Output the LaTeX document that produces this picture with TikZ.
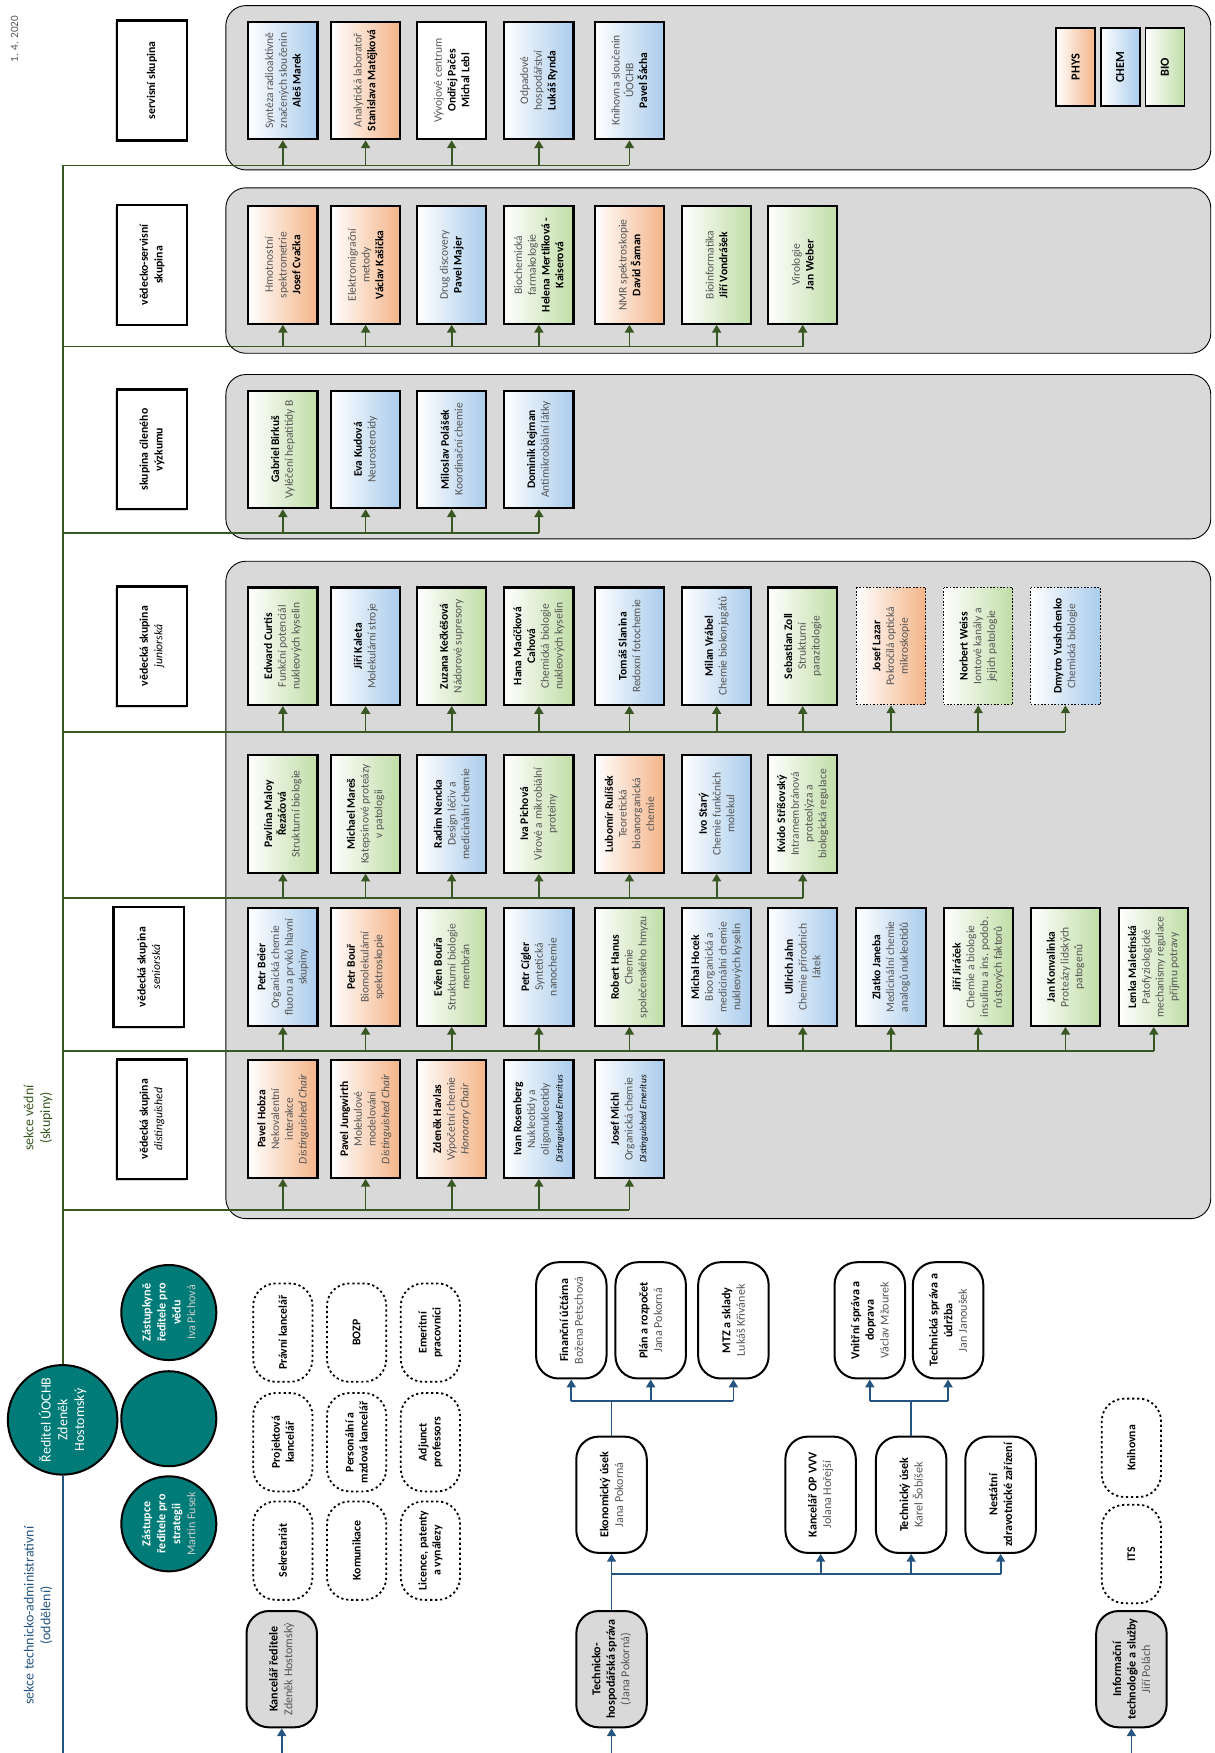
\documentclass[tikz,border=0pt]{standalone}
\usepackage{fontspec}
\setmainfont{Carlito}
\usetikzlibrary{arrows.meta,shadows}

\definecolor{physc}{RGB}{244,180,136}
\definecolor{chemc}{RGB}{170,204,236}
\definecolor{bioc}{RGB}{192,221,166}
\definecolor{panelgray}{RGB}{217,217,217}
\definecolor{sciline}{RGB}{56,87,35}
\definecolor{admline}{RGB}{38,84,128}
\definecolor{dirteal}{RGB}{0,123,120}
\definecolor{txtgray}{RGB}{85,85,85}

\newcommand{\jmeno}[1]{{\bfseries\color{black}#1}}

\begin{document}
\begin{tikzpicture}[x=1pt, y=-1pt,
    every node/.style={rotate=90},
    grp/.style={draw, line width=1.9pt, minimum width=105pt, minimum height=62pt, inner sep=1pt,
      align=center, text=txtgray, font=\fontsize{10.3}{12.3}\selectfont},
    phys/.style={grp, left color=white, right color=physc},
    chem/.style={grp, left color=white, right color=chemc},
    bio/.style={grp, left color=white, right color=bioc},
    newgrp/.style={line width=0.9pt, dash pattern=on 1.5pt off 1.5pt},
    hdr/.style={draw, line width=2.2pt, fill=white, minimum width=107pt, minimum height=63pt, align=center,
      font=\bfseries\fontsize{10.5}{13}\selectfont, drop shadow={opacity=0.35, shadow xshift=-1.5pt, shadow yshift=-1.5pt}},
    legend/.style={draw, line width=1.5pt, minimum width=70pt, minimum height=35pt, font=\bfseries\fontsize{11}{13}\selectfont},
    panel/.style={draw, line width=0.8pt, fill=panelgray, rounded corners=18pt},
    gline/.style={draw=sciline, line width=1.6pt},
    garrow/.style={gline, -{Triangle[width=8pt,length=7pt]}},
    bline/.style={draw=admline, line width=1.6pt},
    barrow/.style={bline, -{Triangle[width=8pt,length=7pt]}},
    dept/.style={draw, line width=1.8pt, fill=white, rounded corners=20pt, minimum width=104pt, minimum height=63pt,
      inner sep=1pt, align=center, text=txtgray, font=\fontsize{10.8}{13}\selectfont},
    deptgray/.style={dept, fill=panelgray},
    unit/.style={draw, line width=1.6pt, dash pattern=on 2pt off 2.5pt, fill=white, rounded corners=20pt,
      minimum width=88pt, minimum height=53pt, inner sep=1pt, align=center, font=\bfseries\fontsize{10.5}{12.5}\selectfont},
    boss/.style={circle, draw, line width=1.8pt, fill=dirteal, text=white, align=center, inner sep=0pt,
      minimum size=85pt, font=\fontsize{10.8}{13.4}\selectfont}
  ]
  \useasboundingbox (0,0) rectangle (1086,1568);

  % group panels
  \draw[panel] (202,5) rectangle (1083,152);
  \draw[panel] (202,168) rectangle (1083,316);
  \draw[panel] (202,335) rectangle (1083,482);
  \draw[panel] (202,502) rectangle (1083,1090);

  \node[text=txtgray, font=\fontsize{10}{12}\selectfont] (datum) at (13,35) {1. 4. 2020};
  \node[text=sciline, align=center, font=\fontsize{12.5}{15}\selectfont] (lsci) at (34,1000) {sekce vědní\\(skupiny)};
  \node[text=admline, align=center, font=\fontsize{12.5}{15}\selectfont] (ladm) at (34,1445) {sekce technicko-administrativní\\(oddělení)};

  % headers
  \node[hdr] (hS) at (136,72) {servisní skupina};
  \node[hdr] (hVS) at (136,237) {vědecko-servisní\\skupina};
  \node[hdr] (hC) at (136,402) {skupina cíleného\\výzkumu};
  \node[hdr] (hJ) at (136,578) {vědecká skupina\\{\mdseries\itshape juniorská}};
  \node[hdr] (hSN) at (133,865) {vědecká skupina\\{\mdseries\itshape seniorská}};
  \node[hdr] (hD) at (136,1001) {vědecká skupina\\{\mdseries\itshape distinguished}};

  % legend
  \node[legend, left color=white, right color=physc] (lphys) at (962,60) {PHYS};
  \node[legend, left color=white, right color=chemc] (lchem) at (1002,60) {CHEM};
  \node[legend, left color=white, right color=bioc] (lbio) at (1042,60) {BIO};

  % servisni skupina
  \node[chem] (s1) at (253,72) {Syntéza radioaktivně\\značených sloučenin\\\jmeno{Aleš Marek}};
  \node[phys] (s2) at (327,72) {Analytická laboratoř\\\jmeno{Stanislava Matějková}};
  \node[grp, fill=white] (s3) at (404,72) {Vývojové centrum\\\jmeno{Ondřej Pačes}\\\jmeno{Michal Lebl}};
  \node[chem] (s4) at (482,72) {Odpadové\\hospodářství\\\jmeno{Lukáš Rynda}};
  \node[chem] (s5) at (563,72) {Knihovna sloučenin\\ÚOCHB\\\jmeno{Pavel Šácha}};

  % vedecko-servisni skupina
  \node[phys] (vs1) at (253,237) {Hmotnostní\\spektrometrie\\\jmeno{Josef Cvačka}};
  \node[phys] (vs2) at (327,237) {Elektromigrační\\metody\\\jmeno{Václav Kašička}};
  \node[chem] (vs3) at (404,237) {Drug discovery\\\jmeno{Pavel Majer}};
  \node[bio] (vs4) at (482,237) {Biochemická\\farmakologie\\\jmeno{Helena Mertlíková -}\\\jmeno{Kaiserová}};
  \node[phys] (vs5) at (563,237) {NMR spektroskopie\\\jmeno{David Šaman}};
  \node[bio] (vs6) at (641,237) {Bioinformatika\\\jmeno{Jiří Vondrášek}};
  \node[bio] (vs7) at (718,237) {Virologie\\\jmeno{Jan Weber}};

  % cileny vyzkum
  \node[bio] (c1) at (253,402) {\jmeno{Gabriel Birkuš}\\Vyléčení hepatitidy B};
  \node[chem] (c2) at (327,402) {\jmeno{Eva Kudová}\\Neurosteroidy};
  \node[chem] (c3) at (404,402) {\jmeno{Miloslav Polášek}\\Koordinační chemie};
  \node[chem] (c4) at (482,402) {\jmeno{Dominik Rejman}\\Antimikrobiální látky};

  % juniorske skupiny
  \node[bio] (j1) at (253,578) {\jmeno{Edward Curtis}\\Funkční potenciál\\nukleových kyselin};
  \node[chem] (j2) at (327,578) {\jmeno{Jiří Kaleta}\\Molekulární stroje};
  \node[bio] (j3) at (404,578) {\jmeno{Zuzana Kečkéšová}\\Nádorové supresory};
  \node[bio] (j4) at (482,578) {\jmeno{Hana Macíčková}\\\jmeno{Cahová}\\Chemická biologie\\nukleových kyselin};
  \node[chem] (j5) at (563,578) {\jmeno{Tomáš Slanina}\\Redoxní fotochemie};
  \node[chem] (j6) at (641,578) {\jmeno{Milan Vrábel}\\Chemie biokonjugátů};
  \node[bio] (j7) at (718,578) {\jmeno{Sebastian Zoll}\\Strukturní\\parazitologie};
  \node[phys, newgrp] (j8) at (797,578) {\jmeno{Josef Lazar}\\Pokročilá optická\\mikroskopie};
  \node[bio, newgrp] (j9) at (875,578) {\jmeno{Norbert Weiss}\\Iontové kanály a\\jejich patologie};
  \node[chem, newgrp] (j10) at (953,578) {\jmeno{Dmytro Yushchenko}\\Chemická biologie};

  % seniorske skupiny
  \node[bio] (p1) at (253,728) {\jmeno{Pavlína Maloy}\\\jmeno{Řezáčová}\\Strukturní biologie};
  \node[bio] (p2) at (327,728) {\jmeno{Michael Mareš}\\Katepsinové proteázy\\v patologii};
  \node[chem] (p3) at (404,728) {\jmeno{Radim Nencka}\\Design léčiv a\\medicinální chemie};
  \node[bio] (p4) at (482,728) {\jmeno{Iva Pichová}\\Virové a mikrobiální\\proteiny};
  \node[phys] (p5) at (563,728) {\jmeno{Lubomír Rulíšek}\\Teoretická\\bioanorganická\\chemie};
  \node[chem] (p6) at (641,728) {\jmeno{Ivo Starý}\\Chemie funkčních\\molekul};
  \node[bio] (p7) at (718,728) {\jmeno{Kvido Stříšovský}\\Intramembránová\\proteolýza a\\biologická regulace};

  \node[chem] (sn1) at (253,865) {\jmeno{Petr Beier}\\Organická chemie\\fluoru a prvků hlavní\\skupiny};
  \node[phys] (sn2) at (327,865) {\jmeno{Petr Bouř}\\Biomolekulární\\spektroskopie};
  \node[bio] (sn3) at (404,865) {\jmeno{Evžen Bouřa}\\Strukturní biologie\\membrán};
  \node[chem] (sn4) at (482,865) {\jmeno{Petr Cígler}\\Syntetická\\nanochemie};
  \node[bio] (sn5) at (563,865) {\jmeno{Robert Hanus}\\Chemie\\společenského hmyzu};
  \node[chem] (sn6) at (641,865) {\jmeno{Michal Hocek}\\Bioorganická a\\medicinální chemie\\nukleových kyselin};
  \node[chem] (sn7) at (718,865) {\jmeno{Ullrich Jahn}\\Chemie přírodních\\látek};
  \node[chem] (sn8) at (797,865) {\jmeno{Zlatko Janeba}\\Medicinální chemie\\analogů nukleotidů};
  \node[bio] (sn9) at (875,865) {\jmeno{Jiří Jiráček}\\Chemie a biologie\\insulinu a ins. podob.\\růstových faktorů};
  \node[bio] (sn10) at (953,865) {\jmeno{Jan Konvalinka}\\Proteázy lidských\\patogenů};
  \node[bio] (sn11) at (1032,865) {\jmeno{Lenka Maletínská}\\Patofyziologické\\mechanismy regulace\\příjmu potravy};

  % distinguished
  \node[phys] (d1) at (253,1001) {\jmeno{Pavel Hobza}\\Nekovalentní\\interakce\\\textit{Distinguished Chair}};
  \node[phys] (d2) at (327,1001) {\jmeno{Pavel Jungwirth}\\Molekulové\\modelování\\\textit{Distinguished Chair}};
  \node[phys] (d3) at (404,1001) {\jmeno{Zdeněk Havlas}\\Výpočetní chemie\\\textit{Honorary Chair}};
  \node[chem] (d4) at (482,1001) {\jmeno{Ivan Rosenberg}\\Nukleotidy a\\oligonukleotidy\\{\fontsize{8.5}{10}\selectfont\itshape\color{black}Distinguished Emeritus}};
  \node[chem] (d5) at (563,1001) {\jmeno{Josef Michl}\\Organická chemie\\{\fontsize{8.5}{10}\selectfont\itshape\color{black}Distinguished Emeritus}};

  % vedeni
  \node[boss, minimum size=98pt, font=\fontsize{12.5}{15}\selectfont] (dir) at (56,1270) {Ředitel ÚOCHB\\Zdeněk\\Hostomský};
  \node[boss] (dep0) at (151,1269) {};
  \node[boss] (dep1) at (151,1174) {\textbf{Zástupkyně}\\\textbf{ředitele pro}\\\textbf{vědu}\\{\color{white!80!black}Iva Pichová}};
  \node[boss] (dep2) at (151,1363) {\textbf{Zástupce}\\\textbf{ředitele pro}\\\textbf{strategii}\\{\color{white!80!black}Martin Fusek}};

  % utvary
  \node[unit] (pk) at (253,1192) {Právní kancelář};
  \node[unit] (prk) at (253,1290) {Projektová\\kancelář};
  \node[unit] (sek) at (253,1387) {Sekretariát};
  \node[unit] (bozp) at (319,1192) {BOZP};
  \node[unit] (pmk) at (319,1290) {Personální a\\mzdová kancelář};
  \node[unit] (kom) at (319,1387) {Komunikace};
  \node[unit] (emp) at (385,1192) {Emeritní\\pracovníci};
  \node[unit] (adj) at (385,1290) {Adjunct\\professors};
  \node[unit] (lic) at (385,1387) {Licence, patenty\\a vynálezy};
  \node[unit] (kni) at (1012,1295) {Knihovna};
  \node[unit] (itsu) at (1012,1390) {ITS};

  \node[deptgray] (kr) at (252,1493) {\jmeno{Kancelář ředitele}\\Zdeněk Hostomský};
  \node[deptgray] (ths) at (547,1493) {\jmeno{Technicko-}\\\jmeno{hospodářská správa}\\(Jana Pokorná)};
  \node[deptgray] (its) at (1012,1493) {\jmeno{Informační}\\\jmeno{technologie a služby}\\Jiří Polách};
  \node[dept] (eko) at (547,1337) {\jmeno{Ekonomický úsek}\\Jana Pokorná};
  \node[dept] (fin) at (511,1181) {\jmeno{Finanční účtárna}\\Božena Petschová};
  \node[dept] (plan) at (582,1181) {\jmeno{Plán a rozpočet}\\Jana Pokorná};
  \node[dept] (mtz) at (656,1181) {\jmeno{MTZ a sklady}\\Lukáš Křivánek};
  \node[dept] (vsd) at (778,1181) {\jmeno{Vnitřní správa a}\\\jmeno{doprava}\\Václav Mžourek};
  \node[dept] (tsu) at (848,1181) {\jmeno{Technická správa a}\\\jmeno{údržba}\\Jan Janoušek};
  \node[dept] (opv) at (734,1337) {\jmeno{Kancelář OP VVV}\\Jolana Hořejší};
  \node[dept] (tu) at (815,1337) {\jmeno{Technický úsek}\\Karel Šobíšek};
  \node[dept] (nzz) at (895,1337) {\jmeno{Nestátní}\\\jmeno{zdravotnické zařízení}};

  % vedecka sekce
  \coordinate (gS) at (56,148);
  \coordinate (gVS) at (56,310);
  \coordinate (gC) at (56,477);
  \coordinate (gJ) at (56,655);
  \coordinate (gP) at (56,803);
  \coordinate (gSN) at (56,940);
  \coordinate (gD) at (56,1082);
  \draw[gline] (dir.east) -- (gS);
  \draw[gline] (gS) -- (gS -| s5.west);
  \draw[gline] (gVS) -- (gVS -| vs7.west);
  \draw[gline] (gC) -- (gC -| c4.west);
  \draw[gline] (gJ) -- (gJ -| j10.west);
  \draw[gline] (gP) -- (gP -| p7.west);
  \draw[gline] (gSN) -- (gSN -| sn11.west);
  \draw[gline] (gD) -- (gD -| d5.west);
  \draw[garrow] (s1.west |- gS) -- (s1.west);
  \draw[garrow] (s2.west |- gS) -- (s2.west);
  \draw[garrow] (s3.west |- gS) -- (s3.west);
  \draw[garrow] (s4.west |- gS) -- (s4.west);
  \draw[garrow] (s5.west |- gS) -- (s5.west);
  \draw[garrow] (vs1.west |- gVS) -- (vs1.west);
  \draw[garrow] (vs2.west |- gVS) -- (vs2.west);
  \draw[garrow] (vs3.west |- gVS) -- (vs3.west);
  \draw[garrow] (vs4.west |- gVS) -- (vs4.west);
  \draw[garrow] (vs5.west |- gVS) -- (vs5.west);
  \draw[garrow] (vs6.west |- gVS) -- (vs6.west);
  \draw[garrow] (vs7.west |- gVS) -- (vs7.west);
  \draw[garrow] (c1.west |- gC) -- (c1.west);
  \draw[garrow] (c2.west |- gC) -- (c2.west);
  \draw[garrow] (c3.west |- gC) -- (c3.west);
  \draw[garrow] (c4.west |- gC) -- (c4.west);
  \draw[garrow] (j1.west |- gJ) -- (j1.west);
  \draw[garrow] (j2.west |- gJ) -- (j2.west);
  \draw[garrow] (j3.west |- gJ) -- (j3.west);
  \draw[garrow] (j4.west |- gJ) -- (j4.west);
  \draw[garrow] (j5.west |- gJ) -- (j5.west);
  \draw[garrow] (j6.west |- gJ) -- (j6.west);
  \draw[garrow] (j7.west |- gJ) -- (j7.west);
  \draw[garrow] (j8.west |- gJ) -- (j8.west);
  \draw[garrow] (j9.west |- gJ) -- (j9.west);
  \draw[garrow] (j10.west |- gJ) -- (j10.west);
  \draw[garrow] (p1.west |- gP) -- (p1.west);
  \draw[garrow] (p2.west |- gP) -- (p2.west);
  \draw[garrow] (p3.west |- gP) -- (p3.west);
  \draw[garrow] (p4.west |- gP) -- (p4.west);
  \draw[garrow] (p5.west |- gP) -- (p5.west);
  \draw[garrow] (p6.west |- gP) -- (p6.west);
  \draw[garrow] (p7.west |- gP) -- (p7.west);
  \draw[garrow] (sn1.west |- gSN) -- (sn1.west);
  \draw[garrow] (sn2.west |- gSN) -- (sn2.west);
  \draw[garrow] (sn3.west |- gSN) -- (sn3.west);
  \draw[garrow] (sn4.west |- gSN) -- (sn4.west);
  \draw[garrow] (sn5.west |- gSN) -- (sn5.west);
  \draw[garrow] (sn6.west |- gSN) -- (sn6.west);
  \draw[garrow] (sn7.west |- gSN) -- (sn7.west);
  \draw[garrow] (sn8.west |- gSN) -- (sn8.west);
  \draw[garrow] (sn9.west |- gSN) -- (sn9.west);
  \draw[garrow] (sn10.west |- gSN) -- (sn10.west);
  \draw[garrow] (sn11.west |- gSN) -- (sn11.west);
  \draw[garrow] (d1.west |- gD) -- (d1.west);
  \draw[garrow] (d2.west |- gD) -- (d2.west);
  \draw[garrow] (d3.west |- gD) -- (d3.west);
  \draw[garrow] (d4.west |- gD) -- (d4.west);
  \draw[garrow] (d5.west |- gD) -- (d5.west);

  % technicko-administrativni sekce
  \coordinate (abot) at (56,1568);
  \coordinate (ub) at (547,1408);
  \coordinate (eb) at (547,1253);
  \coordinate (tb) at (815,1253);
  \draw[bline] (dir.west) -- (abot);
  \draw[barrow] (kr.west |- abot) -- (kr.west);
  \draw[barrow] (ths.west |- abot) -- (ths.west);
  \draw[barrow] (its.west |- abot) -- (its.west);
  \draw[barrow] (ths.east) -- (eko.west);
  \draw[bline] (ub) -- (ub -| nzz.west);
  \draw[barrow] (opv.west |- ub) -- (opv.west);
  \draw[barrow] (tu.west |- ub) -- (tu.west);
  \draw[barrow] (nzz.west |- ub) -- (nzz.west);
  \draw[bline] (eko.east) -- (eb);
  \draw[bline] (fin.west |- eb) -- (mtz.west |- eb);
  \draw[barrow] (fin.west |- eb) -- (fin.west);
  \draw[barrow] (plan.west |- eb) -- (plan.west);
  \draw[barrow] (mtz.west |- eb) -- (mtz.west);
  \draw[bline] (tu.east) -- (tb);
  \draw[bline] (vsd.west |- tb) -- (tsu.west |- tb);
  \draw[barrow] (vsd.west |- tb) -- (vsd.west);
  \draw[barrow] (tsu.west |- tb) -- (tsu.west);
\end{tikzpicture}
\end{document}
